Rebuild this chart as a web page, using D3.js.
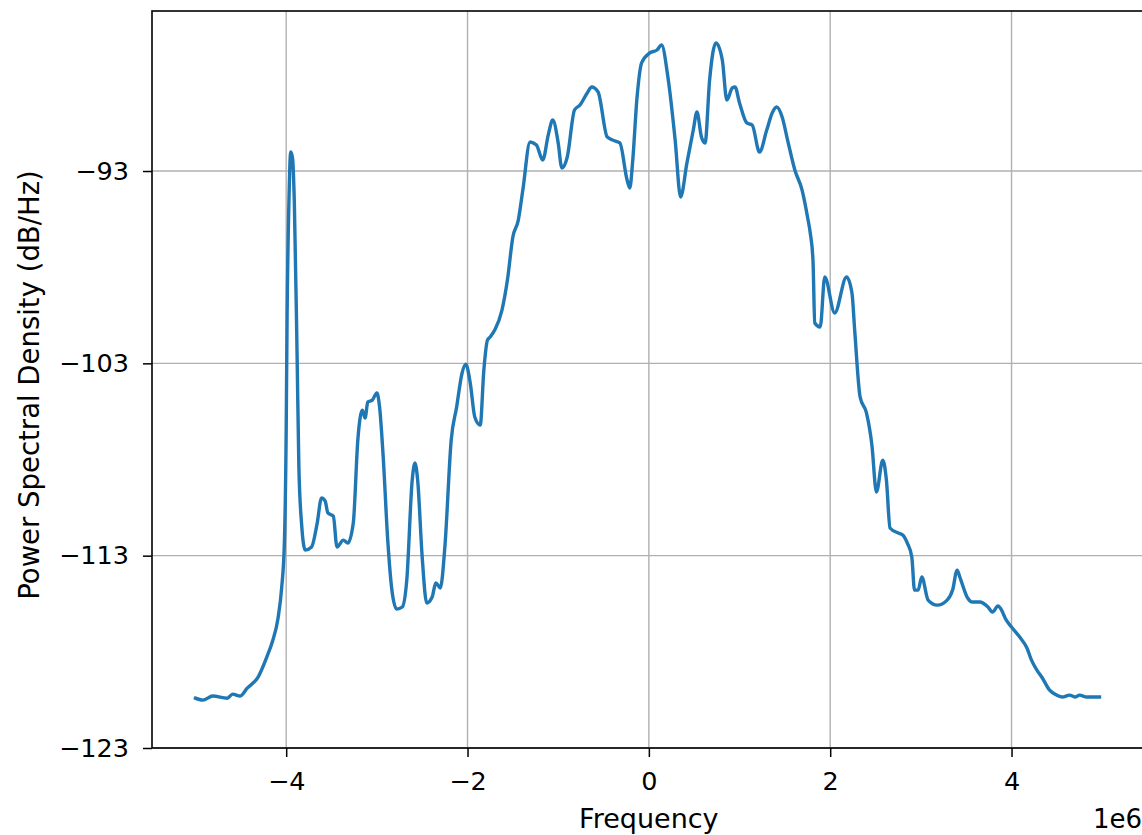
<!DOCTYPE html>
<html>
<head>
<meta charset="utf-8">
<script src="https://cdn.jsdelivr.net/npm/d3@7"></script>
<style>
  body { margin: 0; background: #fff; }
  svg text { font-family: "DejaVu Sans", sans-serif; }
</style>
</head>
<body>
<div id="holder"></div>
<script>
// frequency in MHz (axis shows the 1e6 offset)
const freqMHz = [
  -5.00, -4.92, -4.81, -4.65, -4.59, -4.51, -4.43, -4.31, -4.21, -4.15,
  -4.09, -4.05, -4.02, -4.00, -3.99, -3.97, -3.95, -3.93, -3.91, -3.88,
  -3.86, -3.83, -3.79, -3.72, -3.66, -3.61, -3.57, -3.54, -3.48, -3.44,
  -3.37, -3.32, -3.26, -3.21, -3.16, -3.13, -3.10, -3.05, -3.00, -2.97,
  -2.93, -2.88, -2.83, -2.78, -2.72, -2.67, -2.61, -2.58, -2.55, -2.50,
  -2.45, -2.39, -2.35, -2.30, -2.25, -2.18, -2.12, -2.06, -2.02, -1.97,
  -1.92, -1.86, -1.82, -1.78, -1.75, -1.70, -1.62, -1.56, -1.50, -1.44,
  -1.39, -1.31, -1.24, -1.17, -1.11, -1.06, -1.00, -0.96, -0.90, -0.82,
  -0.76, -0.68, -0.63, -0.56, -0.46, -0.40, -0.32, -0.24, -0.21, -0.18,
  -0.13, -0.08, 0.01, 0.09, 0.14, 0.21, 0.29, 0.35, 0.42, 0.49,
  0.53, 0.58, 0.62, 0.67, 0.74, 0.81, 0.86, 0.92, 0.95, 1.00,
  1.08, 1.14, 1.22, 1.30, 1.36, 1.41, 1.47, 1.53, 1.61, 1.69,
  1.75, 1.78, 1.81, 1.83, 1.89, 1.94, 2.05, 2.18, 2.24, 2.27,
  2.33, 2.40, 2.46, 2.51, 2.58, 2.62, 2.66, 2.75, 2.80, 2.85,
  2.90, 2.93, 2.97, 3.01, 3.08, 3.18, 3.29, 3.35, 3.40, 3.43,
  3.51, 3.57, 3.65, 3.74, 3.79, 3.85, 3.89, 3.93, 4.00, 4.09,
  4.17, 4.22, 4.28, 4.34, 4.42, 4.50, 4.56, 4.64, 4.70, 4.75,
  4.83, 4.97
];

// power spectral density in dB/Hz
const psd = [
  -120.41, -120.51, -120.30, -120.41, -120.20, -120.30, -119.89, -119.31, -118.22, -117.44,
  -116.25, -114.68, -112.34, -106.47, -100.54, -94.66, -92.01, -92.32, -94.66, -102.52,
  -108.39, -111.36, -112.71, -112.55, -111.36, -110.00, -110.16, -110.78, -110.94, -112.55,
  -112.19, -112.34, -111.30, -106.99, -105.43, -105.84, -105.01, -104.91, -104.54, -105.27,
  -107.87, -112.19, -114.94, -115.78, -115.67, -114.27, -109.07, -108.18, -109.07, -113.07,
  -115.46, -115.15, -114.42, -114.68, -112.55, -106.99, -105.27, -103.50, -103.04, -104.02,
  -105.79, -106.21, -103.35, -101.79, -101.63, -101.27, -100.23, -98.67, -96.43, -95.55,
  -93.99, -91.49, -91.65, -92.43, -91.13, -90.35, -91.54, -92.84, -92.27, -89.83,
  -89.57, -88.94, -88.63, -88.89, -91.23, -91.39, -91.54, -93.47, -93.88, -92.58,
  -89.15, -87.38, -86.86, -86.71, -86.45, -88.11, -91.39, -94.35, -92.58, -90.87,
  -89.93, -91.23, -91.54, -88.27, -86.34, -87.23, -89.31, -88.68, -88.63, -89.46,
  -90.50, -90.61, -92.01, -90.87, -89.98, -89.67, -90.19, -91.39, -92.95, -93.99,
  -95.39, -96.22, -97.63, -100.90, -101.11, -98.51, -100.38, -98.51, -99.34, -101.27,
  -104.75, -105.58, -107.25, -109.69, -108.03, -109.07, -111.56, -111.82, -111.93, -112.34,
  -113.07, -114.79, -114.79, -114.11, -115.31, -115.57, -115.31, -114.79, -113.75, -114.11,
  -115.15, -115.41, -115.41, -115.67, -115.93, -115.62, -115.83, -116.25, -116.71, -117.23,
  -117.80, -118.43, -118.95, -119.36, -119.99, -120.25, -120.35, -120.25, -120.35, -120.25,
  -120.35, -120.35
];

const xTicks = [-4, -2, 0, 2, 4];
const yTicks = [-93, -103, -113, -123];

const width = 1142;
const height = 835;
const margin = { top: 11, left: 152, bottom: 87 };
const plotW = 991;
const plotH = height - margin.top - margin.bottom;

const fmt = (d) => (d < 0 ? "\u2212" + Math.abs(d) : String(d));

const xScale = d3.scaleLinear().domain([-5.48, 5.45]).range([0, plotW]);
const yScale = d3.scaleLinear().domain([-123, -84.68]).range([plotH, 0]);

const svg = d3.select("#holder")
  .append("svg")
  .attr("width", width)
  .attr("height", height);

const g = svg.append("g")
  .attr("transform", `translate(${margin.left}, ${margin.top})`);

// grid
g.append("g")
  .selectAll("line")
  .data(xTicks)
  .enter()
  .append("line")
  .attr("x1", d => xScale(d)).attr("x2", d => xScale(d))
  .attr("y1", 0).attr("y2", plotH)
  .attr("stroke", "#b0b0b0").attr("stroke-width", 1.4);

g.append("g")
  .selectAll("line")
  .data(yTicks)
  .enter()
  .append("line")
  .attr("x1", 0).attr("x2", plotW)
  .attr("y1", d => yScale(d)).attr("y2", d => yScale(d))
  .attr("stroke", "#b0b0b0").attr("stroke-width", 1.4);

// the PSD line
const points = freqMHz.map((f, i) => [f, psd[i]]);
const line = d3.line()
  .curve(d3.curveMonotoneX)
  .x(d => xScale(d[0]))
  .y(d => yScale(d[1]));

g.append("path")
  .datum(points)
  .attr("fill", "none")
  .attr("stroke", "#1f77b4")
  .attr("stroke-width", 3.4)
  .attr("stroke-linejoin", "round")
  .attr("stroke-linecap", "square")
  .attr("d", line);

// axes
const xAxis = d3.axisBottom(xScale)
  .tickValues(xTicks)
  .tickFormat(fmt)
  .tickSize(9)
  .tickPadding(15)
  .tickSizeOuter(0);

const yAxis = d3.axisLeft(yScale)
  .tickValues(yTicks)
  .tickFormat(fmt)
  .tickSize(9)
  .tickPadding(14)
  .tickSizeOuter(0);

const gx = g.append("g")
  .attr("transform", `translate(0, ${plotH})`)
  .call(xAxis);

const gy = g.append("g").call(yAxis);

[gx, gy].forEach(a => {
  a.select(".domain").remove();
  a.selectAll(".tick line").attr("stroke", "#000").attr("stroke-width", 1.5);
  a.selectAll(".tick text")
    .attr("fill", "#000")
    .style("font-size", "25.5px")
    .style("font-family", "'DejaVu Sans', sans-serif");
});

// spines
g.append("rect")
  .attr("x", 0).attr("y", 0)
  .attr("width", plotW).attr("height", plotH)
  .attr("fill", "none")
  .attr("stroke", "#000")
  .attr("stroke-width", 1.6);

// labels
svg.append("text")
  .attr("x", margin.left + xScale(0))
  .attr("y", 828)
  .attr("text-anchor", "middle")
  .style("font-size", "27px")
  .text("Frequency");

svg.append("text")
  .attr("x", 1142)
  .attr("y", 828)
  .attr("text-anchor", "end")
  .style("font-size", "26px")
  .text("1e6");

svg.append("text")
  .attr("transform", `translate(29, 385) rotate(-90)`)
  .attr("text-anchor", "middle")
  .attr("dy", "0.35em")
  .style("font-size", "27.5px")
  .text("Power Spectral Density (dB/Hz)");
</script>
</body>
</html>
